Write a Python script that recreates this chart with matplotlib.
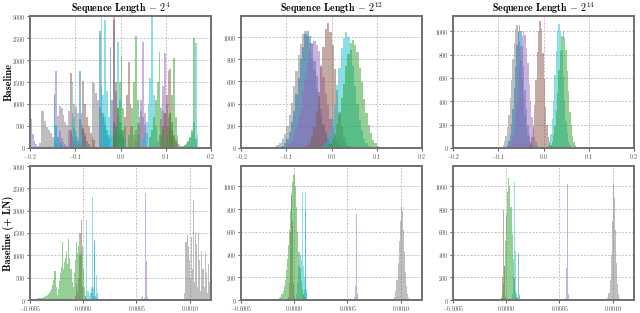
import numpy as np
import matplotlib
matplotlib.use("Agg")
import matplotlib.pyplot as plt
from matplotlib.ticker import StrMethodFormatter

plt.rcParams["font.family"] = "serif"
plt.rcParams["font.serif"] = ["cmr10"]
plt.rcParams["mathtext.fontset"] = "cm"
plt.rcParams["axes.formatter.use_mathtext"] = True

# ---- data: histogram segments (left edge of first bin, counts) ----
# sequence length 2^4, baseline (bin 0.004)
gray_b4 = [(-0.180, [120, 850, 830, 620, 480, 400, 330, 250, 180, 120]),
           (-0.136, [950, 920, 760, 600, 520, 420, 330, 260]),
           (-0.104, [1000, 940, 800, 650, 540, 430, 340]),
           (-0.064, [1500, 1480, 1250, 1080, 930, 820, 700, 560, 420, 300]),
           (-0.016, [600, 520, 450, 380, 300, 230]),
           (0.028, [300, 420, 560, 700, 830, 700, 520]),
           (0.092, [850, 800, 1000, 700, 450, 300, 250, 180, 120, 80, 50])]
blue_b4 = [(-0.148, [1200, 500, 250, 120, 60]),
           (-0.092, [1750, 800, 450, 280, 160, 100]),
           (-0.048, [2650, 1400, 800, 500, 300, 200]),
           (-0.024, [2300, 1100, 600, 350, 200])]
purple_b4 = [(-0.200, [650, 320, 160, 90, 50, 30]),
             (-0.144, [1760, 720, 380, 220, 130, 80, 50]),
             (-0.116, [830, 420, 250, 150, 90]),
             (-0.016, [3000, 1300, 700, 420, 260, 150]),
             (0.032, [150, 300, 600, 1100, 2400, 800, 350]),
             (0.080, [150, 300, 650, 1400, 2150, 500])]
brown_b4 = [(-0.112, [1700, 800, 450, 280, 170, 100]),
            (-0.084, [1520, 1000, 700, 500, 350, 250, 180]),
            (-0.016, [2900, 1500, 900, 600, 400, 260]),
            (0.000, [250, 400, 700, 1200, 1950, 1000, 500]),
            (0.088, [300, 500, 800, 1200, 1760, 800, 400]),
            (0.108, [1800, 600, 300, 150])]
cyan_b4 = [(-0.148, [1220, 520, 260, 140, 70]),
           (-0.108, [1500, 700, 380, 220, 130]),
           (-0.044, [3000, 1200, 700, 420, 260]),
           (-0.036, [2900, 1300, 700, 400, 250]),
           (-0.008, [2400, 1100, 600, 350, 220]),
           (0.048, [200, 350, 600, 1000, 1600, 3000, 1200, 500]),
           (0.140, [60, 90, 140, 220, 350, 600, 2380, 300])]
green_b4 = [(-0.016, [300, 500, 900, 1500, 2100, 900, 500]),
            (0.016, [300, 500, 900, 1500, 2550, 1100, 500]),
            (0.064, [250, 400, 700, 1100, 1500, 2180, 900, 400]),
            (0.100, [300, 500, 800, 1200, 2050, 700, 300]),
            (0.136, [40, 70, 110, 170, 250, 400, 2500, 200])]

# sequence length 2^12, baseline (bin 0.005)
gray_b12 = [(-0.135, [5, 9, 16, 24, 48, 78, 130, 196, 300, 410, 560, 690, 835, 940, 1030, 1055,
                      1010, 950, 815, 700, 530, 410, 285, 195, 115, 78, 38, 20])]
blue_b12 = [(-0.110, [22, 48, 80, 146, 230, 335, 490, 630, 800, 915, 1025, 1055, 1010, 935, 785,
                      645, 470, 350, 220, 140, 86, 44, 25])]
purple_b12 = [(-0.100, [20, 45, 70, 118, 178, 275, 372, 510, 625, 765, 855, 945, 965, 925, 870, 750,
                        640, 495, 385, 262, 185, 110, 76, 40, 22])]
brown_b12 = [(-0.060, [10, 24, 47, 108, 190, 338, 505, 730, 915, 1075, 1130, 1050, 930, 715, 520,
                       325, 198, 100, 52, 20, 8])]
cyan_b12 = [(-0.025, [8, 24, 44, 92, 150, 265, 390, 570, 725, 900, 990, 1045, 1005, 880, 740, 555,
                      400, 250, 160, 85, 48, 20, 10])]
green_b12 = [(-0.015, [10, 24, 40, 80, 128, 215, 310, 450, 580, 740, 850, 948, 975, 930, 865, 725,
                       595, 438, 320, 205, 135, 74, 45, 20, 12])]

# sequence length 2^14, baseline (bin 0.003)
gray_b14 = [(-0.090, [25, 57, 100, 178, 280, 425, 580, 760, 900, 1015, 1050, 1005, 910, 750, 590,
                      418, 285, 172, 104, 52, 28])]
blue_b14 = [(-0.081, [24, 58, 108, 205, 330, 510, 690, 880, 995, 1055, 1000, 870, 700, 500, 335,
                      200, 112, 55, 26])]
purple_b14 = [(-0.075, [25, 50, 98, 165, 272, 398, 562, 715, 870, 958, 1000, 970, 860, 725, 552,
                        405, 265, 170, 95, 53, 24])]
brown_b14 = [(-0.033, [15, 36, 95, 190, 365, 580, 825, 1000, 1085, 1015, 815, 590, 355, 198, 90,
                       40, 13])]
cyan_b14 = [(0.009, [22, 58, 120, 245, 405, 625, 830, 1005, 1065, 990, 840, 615, 412, 235, 128,
                     55, 24])]
green_b14 = [(0.015, [25, 52, 108, 190, 320, 475, 665, 828, 960, 1000, 950, 838, 655, 485, 312,
                      195, 104, 55, 23])]

# baseline (+ LN), bin 0.00001
gray_ln4 = [(0.00095, [150, 1300, 1450, 1200, 900, 500, 1400, 700, 2250, 400, 1500, 1250, 300,
                       1500, 900, 200, 1100, 700, 300, 1050, 600, 150, 800, 400, 200])]
blue_ln4 = [(0.00006, [30, 150, 250, 80, 1350, 60, 40, 150])]
purple_ln4 = [(0.00054, [40, 80, 30, 40, 2390, 880, 60])]
brown_ln4 = [(-0.00008, [100, 350, 200, 500, 1000, 1500, 1800, 300])]
cyan_ln4 = [(0.00002, [100, 1800, 200, 100, 150, 300, 2300, 300, 1300, 100, 550])]
green_ln4 = [(-0.00045, [20, 30, 35, 40, 45, 50, 55, 60, 70, 80, 90, 110, 130, 160, 200,
                         250, 330, 450, 650, 300, 120,
                         250, 420, 600, 750, 1290, 700, 850, 950, 1100, 800, 1360, 950, 700, 400,
                         300, 600, 900, 1300, 1050, 1200, 1490, 1000, 1050, 1200, 700, 300, 100])]

gray_ln12 = [(0.00093, [10, 30, 80, 180, 330, 520, 700, 820, 780, 620, 420, 250, 120, 50, 15])]
blue_ln12 = [(0.00008, [40, 100, 780, 60])]
purple_ln12 = [(0.00056, [30, 120, 755, 60])]
brown_ln12 = [(-0.00006, [30, 150, 600, 940, 700, 150, 30])]
cyan_ln12 = [(0.00002, [50, 150, 300, 400, 350, 950, 300, 200, 950, 100])]
green_ln12 = [(-0.00014, [15, 30, 50, 80, 120, 180, 260, 360, 480, 620, 780, 920, 1040, 1100, 1110,
                          1000, 820, 600, 420, 280, 170, 100, 50, 25, 10])]

gray_ln14 = [(0.00095, [15, 60, 180, 400, 700, 1020, 900, 620, 330, 140, 50, 15])]
blue_ln14 = [(0.00010, [30, 410, 40])]
purple_ln14 = [(0.00055, [20, 280, 1020, 50])]
brown_ln14 = [(-0.00005, [20, 200, 790, 300, 30])]
cyan_ln14 = [(0.00005, [50, 200, 1040, 430, 60])]
green_ln14 = [(-0.00005, [20, 60, 150, 300, 520, 760, 950, 1070, 1000, 820, 580, 360, 190, 80, 25])]

titles = ["4", "12", "14"]
row_labels = ["Baseline", "Baseline (+ LN)"]
top_xticks = [-0.2, -0.1, 0.0, 0.1, 0.2]
ln_xticks = [-0.0005, 0.0, 0.0005, 0.0010]
big_yticks = [0, 500, 1000, 1500, 2000, 2500, 3000]
small_yticks = [0, 200, 400, 600, 800, 1000]

colors = {"gray": "#7f7f7f", "blue": "#1f77b4", "purple": "#9467bd",
          "brown": "#8c564b", "cyan": "#17becf", "green": "#2ca02c"}

panels = [
    # row, col, bin width, series, xlim, ylim, yticks
    (0, 0, 0.004, [gray_b4, blue_b4, purple_b4, brown_b4, cyan_b4, green_b4], (-0.2, 0.2), 3000, big_yticks),
    (0, 1, 0.005, [gray_b12, blue_b12, purple_b12, brown_b12, cyan_b12, green_b12], (-0.2, 0.2), 1190, small_yticks),
    (0, 2, 0.003, [gray_b14, blue_b14, purple_b14, brown_b14, cyan_b14, green_b14], (-0.2, 0.2), 1130, small_yticks),
    (1, 0, 0.00001, [gray_ln4, blue_ln4, purple_ln4, brown_ln4, cyan_ln4, green_ln4], (-0.0005, 0.0012), 3000, big_yticks),
    (1, 1, 0.00001, [gray_ln12, blue_ln12, purple_ln12, brown_ln12, cyan_ln12, green_ln12], (-0.0005, 0.0012), 1180, small_yticks),
    (1, 2, 0.00001, [gray_ln14, blue_ln14, purple_ln14, brown_ln14, cyan_ln14, green_ln14], (-0.0005, 0.0012), 1180, small_yticks),
]
order = ["gray", "blue", "purple", "brown", "cyan", "green"]

fig = plt.figure(figsize=(6.4, 3.13), dpi=100)
W, H = 640, 313
col_left = [30, 241, 453]
row_top = [16, 166]
row_bottom = [148, 300]

for row, col, bw, series, xlim, ytop, yticks in panels:
    l = col_left[col]
    ax = fig.add_axes([l / W, 1 - row_bottom[row] / H, 181 / W, (row_bottom[row] - row_top[row]) / H])
    for name, segs in zip(order, series):
        for start, counts in segs:
            edges = start + bw * np.arange(len(counts) + 1)
            ax.stairs(counts, edges, fill=True, color=colors[name], alpha=0.5, lw=0)
    ax.set_xlim(*xlim)
    ax.set_ylim(0, ytop)
    ax.set_yticks(yticks)
    if row == 0:
        ax.set_xticks(top_xticks)
        ax.xaxis.set_major_formatter(StrMethodFormatter("${x:.1f}$"))
        ax.set_title(r"Sequence Length $\mathbf{-}$ $\mathbf{2^{%s}}$" % titles[col],
                     family="cmb10", fontsize=7.2, pad=1)
    else:
        ax.set_xticks(ln_xticks)
        ax.xaxis.set_major_formatter(StrMethodFormatter("${x:.4f}$"))
    ax.yaxis.set_major_formatter(StrMethodFormatter("${x:.0f}$"))
    ax.tick_params(labelsize=4.2, length=2, width=0.6, pad=1, colors="#444444")
    ax.grid(True, ls=(0, (2.5, 2)), color="#b0b0b0", lw=0.55)
    ax.set_axisbelow(True)
    for s in ax.spines.values():
        s.set_color("#707070")
        s.set_linewidth(1.4)
    if col == 0:
        ax.set_ylabel(row_labels[row], family="cmb10", fontsize=7.5)
        ax.yaxis.set_label_coords(-0.09, 0.5)

fig.savefig("out.png", dpi=100)
